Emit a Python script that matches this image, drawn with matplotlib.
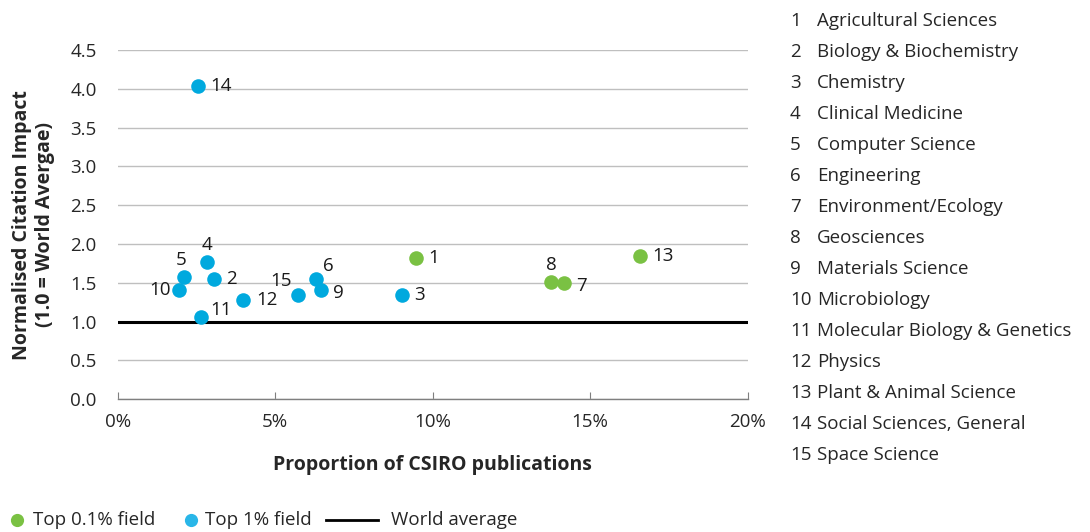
import matplotlib
matplotlib.use("Agg")
import matplotlib.pyplot as plt
from matplotlib.lines import Line2D

plt.rcParams['font.family'] = ['Open Sans', 'DejaVu Sans']

ids = [1, 2, 3, 4, 5, 6, 7, 8, 9, 10, 11, 12, 13, 14, 15]
fields = ["Agricultural Sciences", "Biology & Biochemistry", "Chemistry",
          "Clinical Medicine", "Computer Science", "Engineering",
          "Environment/Ecology", "Geosciences", "Materials Science",
          "Microbiology", "Molecular Biology & Genetics", "Physics",
          "Plant & Animal Science", "Social Sciences, General", "Space Science"]
proportion = [9.46, 3.06, 9.02, 2.83, 2.11, 6.30, 14.17, 13.76, 6.45,
              1.94, 2.63, 3.99, 16.57, 2.55, 5.71]
impact = [1.82, 1.55, 1.35, 1.77, 1.575, 1.545, 1.50, 1.51, 1.41,
          1.41, 1.065, 1.275, 1.85, 4.03, 1.35]
group = ["top01", "top1", "top1", "top1", "top1", "top1", "top01", "top01", "top1",
         "top1", "top1", "top1", "top01", "top1", "top1"]
xticks = [0, 5, 10, 15, 20]
yticks = [0.0, 0.5, 1.0, 1.5, 2.0, 2.5, 3.0, 3.5, 4.0, 4.5]
world_avg = 1.0

colors = {"top01": "#7AC143", "top1": "#00A9DE"}
legend_colors = {"top01": "#7AC143", "top1": "#29B6E8"}
FS = 13.5
TXT = '#262626'

# label offsets in points (dx, dy, ha, va)
offsets = {
    1: (9, 0, 'left', 'center'), 2: (9, 0, 'left', 'center'),
    3: (9, 0, 'left', 'center'), 4: (0, 6, 'center', 'bottom'),
    5: (-2, 6, 'center', 'bottom'), 6: (5, 3, 'left', 'bottom'),
    7: (9, -2, 'left', 'center'), 8: (0, 6, 'center', 'bottom'),
    9: (9, -2, 'left', 'center'), 10: (-6, 0, 'right', 'center'),
    11: (7, 5, 'left', 'center'), 12: (9, 0, 'left', 'center'),
    13: (9, 0, 'left', 'center'), 14: (9, 0, 'left', 'center'),
    15: (-4, 3, 'right', 'bottom'),
}

W, H = 1090, 532
fig = plt.figure(figsize=(W/100, H/100), dpi=100)
ax = fig.add_axes([117.7/W, 1-399.3/H, (747.7-117.7)/W, (399.3-50)/H])

ax.set_xlim(0, 20)
ax.set_ylim(0, 4.5)
ax.set_yticks(yticks)
ax.set_yticklabels([f"{v:.1f}" for v in yticks])
ax.set_xticks(xticks)
ax.set_xticklabels([f"{v}%" for v in xticks])
ax.grid(axis='y', color='#BFBFBF', linewidth=1.0)
ax.set_axisbelow(True)
for s in ['top', 'right', 'left']:
    ax.spines[s].set_visible(False)
ax.spines['bottom'].set_color('#7F7F7F')
ax.spines['bottom'].set_linewidth(1.0)
ax.tick_params(axis='y', length=0, pad=15, labelsize=FS, labelcolor=TXT)
ax.tick_params(axis='x', direction='in', length=5, color='#7F7F7F', pad=10,
               labelsize=FS, labelcolor=TXT)

ax.axhline(world_avg, color='black', linewidth=2.2, zorder=2)

for i, x, y, g in zip(ids, proportion, impact, group):
    ax.scatter([x], [y], s=110, color=colors[g], zorder=3, linewidths=0, clip_on=False)
    dx, dy, ha, va = offsets[i]
    ax.annotate(str(i), (x, y), xytext=(dx, dy), textcoords='offset points',
                ha=ha, va=va, fontsize=FS, color='#1a1a1a')

ax.set_xlabel("Proportion of CSIRO publications", fontsize=14, fontweight='bold',
              color=TXT, labelpad=17)
ax.set_ylabel("Normalised Citation Impact\n(1.0 = World Avergae)", fontsize=14,
              fontweight='bold', color=TXT, labelpad=11, linespacing=1.2)

# Right-hand numbered list
for k, (i, name) in enumerate(zip(ids, fields)):
    yy = 1 - (26 + k*31.0)/H
    fig.text(790/W, yy, str(i), fontsize=FS, va='baseline', ha='left', color=TXT)
    fig.text(817/W, yy, name, fontsize=FS, va='baseline', ha='left', color=TXT)

# Legend (bottom)
ly = 1 - 520/H
fig.add_artist(Line2D([17/W], [ly], marker='o', linestyle='none', markersize=9.5,
                      markerfacecolor=legend_colors["top01"], markeredgewidth=0,
                      transform=fig.transFigure))
fig.text(33/W, ly, "Top 0.1% field", fontsize=FS, va='center', ha='left', color=TXT)
fig.add_artist(Line2D([191/W], [ly], marker='o', linestyle='none', markersize=9.5,
                      markerfacecolor=legend_colors["top1"], markeredgewidth=0,
                      transform=fig.transFigure))
fig.text(205/W, ly, "Top 1% field", fontsize=FS, va='center', ha='left', color=TXT)
fig.add_artist(Line2D([326/W, 378/W], [ly, ly], color='black', linewidth=2,
                      transform=fig.transFigure))
fig.text(391/W, ly, "World average", fontsize=FS, va='center', ha='left', color=TXT)

fig.savefig("out.png", dpi=100, facecolor='white')
